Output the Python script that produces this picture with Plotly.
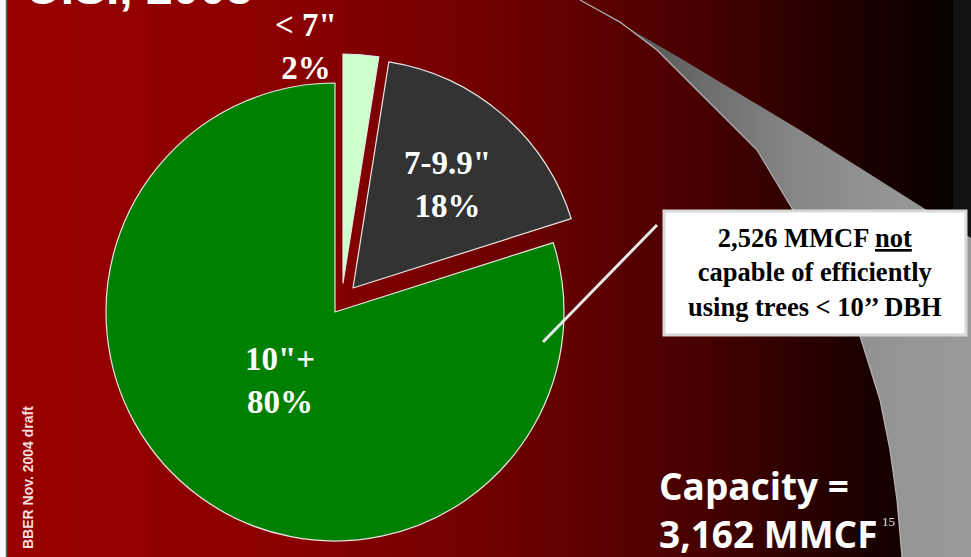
import plotly.graph_objects as go

W, H = 971, 557

# slice data (clockwise from 12 o'clock)
labels = ['&lt; 7"', '7-9.9"', '10"+']
values = [2.5, 17.6, 79.9]
pct_labels = ["2%", "18%", "80%"]
slice_colors = ["#ccffcc", "#333333", "#008000"]

capacity_mmcf = "3,162"
not_capable_mmcf = "2,526"
slide_title = "U.S., 2003"
footer = "BBER Nov. 2004 draft"
slide_number = "15"

SERIF = "Liberation Serif, Times New Roman, serif"
SANS = "Liberation Sans, Arial, sans-serif"
HEAD = "Open Sans, Liberation Sans, sans-serif"

# pie geometry in px; exploded slices get their own shifted center
PIE_CENTER = (335, 312)
PIE_R = 229
EXPLODE = [(8, -29), (18, -24), (0, 0)]


def pie_domain(cx, cy, r):
    return dict(x=[(cx - r) / W, (cx + r) / W], y=[1 - (cy + r) / H, 1 - (cy - r) / H])


fig = go.Figure()

# slide background: red-to-black gradient, dark strip on the right
fig.add_trace(go.Scatter(
    x=[6, 953, 953, 6, 6], y=[0, 0, H, H, 0], mode="lines", fill="toself",
    line=dict(width=0), hoverinfo="skip",
    fillgradient=dict(type="horizontal", start=6, stop=953, colorscale=[
        [0, "#990000"], [0.3, "#8a0000"], [0.55, "#6a0000"],
        [0.75, "#440000"], [0.9, "#1c0000"], [1, "#080000"]]),
))
fig.add_trace(go.Scatter(
    x=[953, W, W, 953, 953], y=[0, 0, H, H, 0], mode="lines", fill="toself",
    fillcolor="#111111", line=dict(width=0), hoverinfo="skip",
))

# grey swoosh
upper = [(580, 0), (680, 58), (800, 130), (927, 210), (W, 238)]
inner = [(902, H), (897, 500), (890, 450), (880, 400), (860, 336), (830, 275),
         (793, 210), (757, 150), (707, 100), (657, 50), (620, 22), (580, 0)]
sw = upper + [(W, H)] + inner
fig.add_trace(go.Scatter(
    x=[p[0] for p in sw], y=[p[1] for p in sw], mode="lines", fill="toself",
    line=dict(width=0), hoverinfo="skip",
    fillgradient=dict(type="horizontal", start=580, stop=W, colorscale=[
        [0, "#444444"], [0.3, "#6a6a6a"], [0.55, "#868686"], [0.8, "#959595"], [1, "#999999"]]),
))
fig.add_trace(go.Scatter(
    x=[p[0] for p in inner], y=[p[1] for p in inner], mode="lines",
    line=dict(color="#b5b5b5", width=1.2), hoverinfo="skip",
))

# pie: one trace per slice so each exploded slice keeps full radius
for i in range(len(values)):
    cx = PIE_CENTER[0] + EXPLODE[i][0]
    cy = PIE_CENTER[1] + EXPLODE[i][1]
    fig.add_trace(go.Pie(
        labels=labels, values=values, sort=False, direction="clockwise", rotation=0,
        marker=dict(
            colors=[c if j == i else "rgba(0,0,0,0)" for j, c in enumerate(slice_colors)],
            line=dict(color="#e6e6e6", width=[1.2 if j == i else 0 for j in range(len(values))]),
        ),
        textinfo="none", hoverinfo="skip", showlegend=False,
        domain=pie_domain(cx, cy, PIE_R),
    ))

label_pos = [(306, 46), (447, 184), (280, 380)]
annotations = []
for (x, y), lab, pct in zip(label_pos, labels, pct_labels):
    annotations.append(dict(
        x=x, y=y, xref="x", yref="y", text=f"<b>{lab}<br>{pct}</b>", showarrow=False,
        font=dict(family=SERIF, size=33, color="white"), align="center",
        xanchor="center", yanchor="middle",
    ))

annotations += [
    dict(x=815, y=272, xref="x", yref="y", showarrow=False, align="center",
         text=f"<b>{not_capable_mmcf} MMCF <u>not</u><br>capable of efficiently<br>using trees &lt; 10’’ DBH</b>",
         font=dict(family=SERIF, size=26.5, color="black")),
    dict(x=657, y=509, xref="x", yref="y", showarrow=False, xanchor="left", yanchor="middle",
         align="left", text=f"<b>Capacity =<br>{capacity_mmcf} MMCF</b>",
         font=dict(family=HEAD, size=37, color="white")),
    dict(x=888, y=521, xref="x", yref="y", showarrow=False,
         text=slide_number, font=dict(family=SERIF, size=13, color="#e0e0e0")),
    dict(x=28, y=478, xref="x", yref="y", showarrow=False, textangle=-90,
         text=f"<b>{footer}</b>", font=dict(family=SANS, size=14, color="#f4dede")),
    dict(x=24, y=16, xref="x", yref="y", showarrow=False, xanchor="left", yanchor="bottom",
         text=f"<b>{slide_title}</b>", font=dict(family=SANS, size=48, color="white")),
]

shapes = [
    dict(type="line", xref="x", yref="y", x0=6.5, x1=6.5, y0=0, y1=H,
         line=dict(color="#556060", width=1.5), layer="above"),
    dict(type="line", xref="x", yref="y", x0=543, y0=342, x1=657, y1=225,
         line=dict(color="#e8e8e8", width=3), layer="above"),
    dict(type="rect", xref="x", yref="y", x0=664, y0=211, x1=966, y1=335,
         fillcolor="white", line=dict(color="#d9d9d9", width=3), layer="above"),
]

fig.update_layout(
    width=W, height=H,
    margin=dict(l=0, r=0, t=0, b=0),
    paper_bgcolor="white", plot_bgcolor="white",
    xaxis=dict(range=[0, W], visible=False, fixedrange=True),
    yaxis=dict(range=[H, 0], visible=False, fixedrange=True),
    showlegend=False,
    annotations=annotations,
    shapes=shapes,
)

# the page body has a default 8px margin; drop it so the slide fills the window
fig.write_html("out.html", config={"displayModeBar": False},
               post_script="document.body.style.margin = '0';")
